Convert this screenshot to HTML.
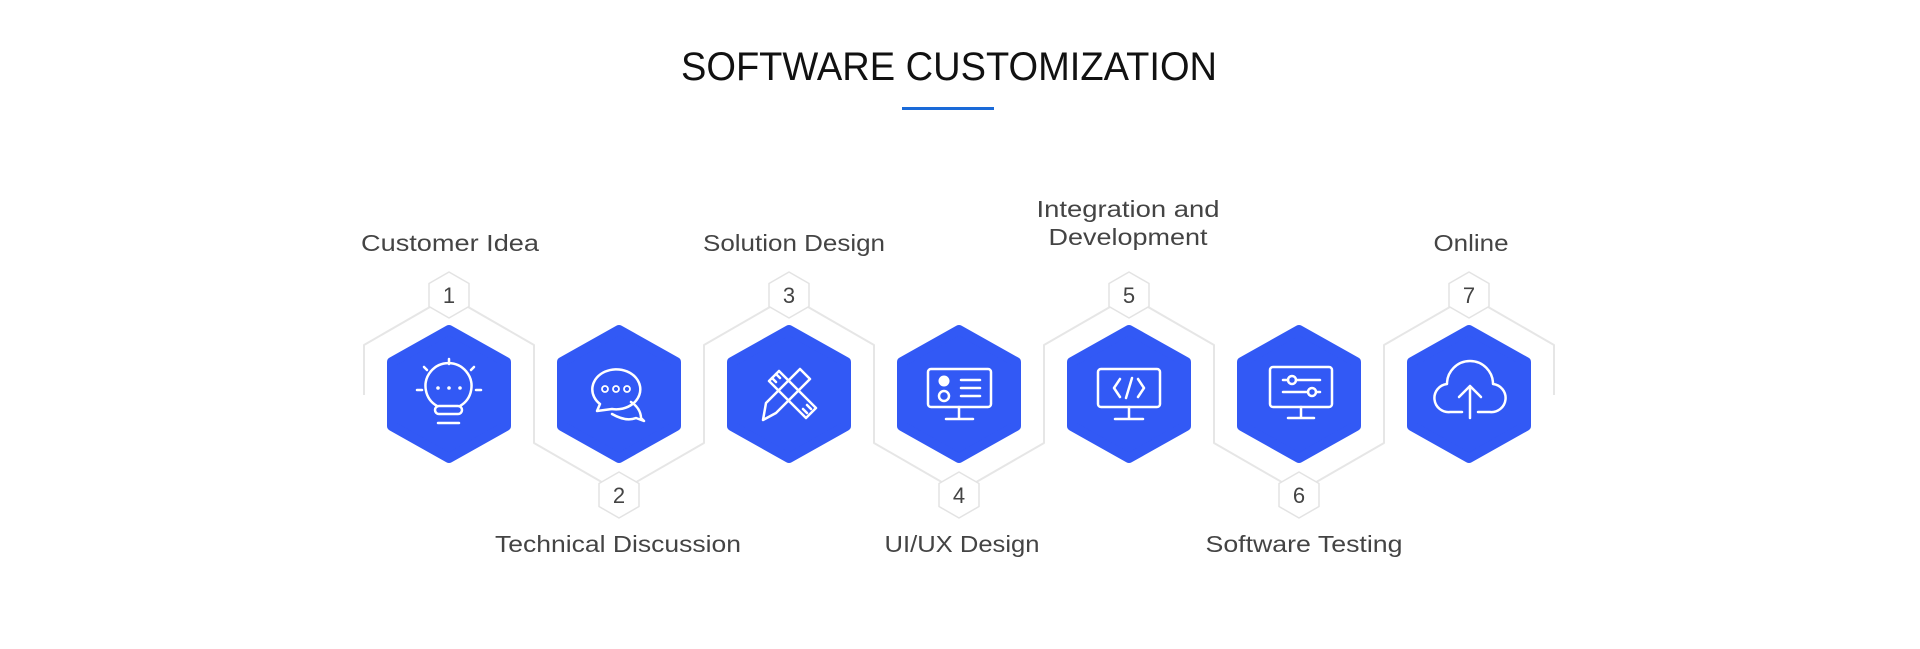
<!DOCTYPE html>
<html><head><meta charset="utf-8"><style>
html,body{margin:0;padding:0;background:#fff;}
svg{display:block;}
text{font-family:"Liberation Sans",sans-serif;}
</style></head><body>
<svg width="1920" height="649" viewBox="0 0 1920 649" xmlns="http://www.w3.org/2000/svg">
<defs>
<g id="top"><path d="M-85,1 L-85,-49 L0,-98 L85,-49 L85,1" fill="none" stroke="#e6e6e6" stroke-width="2" stroke-linejoin="round"/></g>
<g id="bot"><path d="M-85,-1 L-85,49 L0,98 L85,49 L85,-1" fill="none" stroke="#e6e6e6" stroke-width="2" stroke-linejoin="round"/></g>
<g id="blue"><path d="M0,-64 L57,-32 L57,32 L0,64 L-57,32 L-57,-32 Z" fill="#3259f5" stroke="#3259f5" stroke-width="10" stroke-linejoin="round"/></g>
<g id="badge"><path d="M0,-23 L20,-11.5 L20,11.5 L0,23 L-20,11.5 L-20,-11.5 Z" fill="#fff" stroke="#e3e3e3" stroke-width="1.5" stroke-linejoin="round"/></g>
</defs>
<text x="949" y="80" font-size="40" text-anchor="middle" fill="#111" textLength="536" lengthAdjust="spacingAndGlyphs">SOFTWARE CUSTOMIZATION</text>
<rect x="902" y="107" width="92" height="3" fill="#1a6ad8"/>

<g transform="translate(449,394)"><use href="#top"/></g>
<g transform="translate(619,394)"><use href="#bot"/></g>
<g transform="translate(789,394)"><use href="#top"/></g>
<g transform="translate(959,394)"><use href="#bot"/></g>
<g transform="translate(1129,394)"><use href="#top"/></g>
<g transform="translate(1299,394)"><use href="#bot"/></g>
<g transform="translate(1469,394)"><use href="#top"/></g>

<g transform="translate(449,394)"><use href="#blue"/></g>
<g transform="translate(619,394)"><use href="#blue"/></g>
<g transform="translate(789,394)"><use href="#blue"/></g>
<g transform="translate(959,394)"><use href="#blue"/></g>
<g transform="translate(1129,394)"><use href="#blue"/></g>
<g transform="translate(1299,394)"><use href="#blue"/></g>
<g transform="translate(1469,394)"><use href="#blue"/></g>

<g fill="#444" font-size="22" text-anchor="middle">
<g transform="translate(449,295)"><use href="#badge"/><text y="8">1</text></g>
<g transform="translate(619,495)"><use href="#badge"/><text y="8">2</text></g>
<g transform="translate(789,295)"><use href="#badge"/><text y="8">3</text></g>
<g transform="translate(959,495)"><use href="#badge"/><text y="8">4</text></g>
<g transform="translate(1129,295)"><use href="#badge"/><text y="8">5</text></g>
<g transform="translate(1299,495)"><use href="#badge"/><text y="8">6</text></g>
<g transform="translate(1469,295)"><use href="#badge"/><text y="8">7</text></g>
</g>

<g fill="#444" font-size="23" text-anchor="middle">
<text x="450" y="251" textLength="178" lengthAdjust="spacingAndGlyphs">Customer Idea</text>
<text x="618" y="552" textLength="246" lengthAdjust="spacingAndGlyphs">Technical Discussion</text>
<text x="794" y="251" textLength="182" lengthAdjust="spacingAndGlyphs">Solution Design</text>
<text x="962" y="552" textLength="155" lengthAdjust="spacingAndGlyphs">UI/UX Design</text>
<text x="1128" y="217" textLength="183" lengthAdjust="spacingAndGlyphs">Integration and</text>
<text x="1128" y="245" textLength="159" lengthAdjust="spacingAndGlyphs">Development</text>
<text x="1304" y="552" textLength="197" lengthAdjust="spacingAndGlyphs">Software Testing</text>
<text x="1471" y="251" textLength="75" lengthAdjust="spacingAndGlyphs">Online</text>
</g>

<g fill="none" stroke="#fff" stroke-width="2.5" stroke-linecap="round" stroke-linejoin="round">
<path d="M437,406 A23,23 0 1 1 460,406"/>
<rect x="435" y="406" width="27" height="8" rx="4"/>
<line x1="438" y1="423" x2="459" y2="423"/>
<line x1="449" y1="359" x2="449" y2="364"/>
<line x1="417" y1="390" x2="422" y2="390"/>
<line x1="476" y1="390" x2="481" y2="390"/>
<line x1="424" y1="367" x2="427" y2="370"/>
<line x1="474" y1="367" x2="471" y2="370"/>
<path d="M631,402 A26,21 0 0 1 641,418 L644,421 L636,418 Q626,422 612,414"/>
<path d="M600,404 A24,20 0 1 1 612,409 L597,411 Z"/>
<path d="M769,381 L779,371 L816,408 L806,418 Z"/>
<path d="M772,378 L776,382 M776,374 L780,378 M803,409 L807,413 M807,405 L811,409"/>
<path d="M763,420 L766,403 L800,369 L810,379 L776,413 Z"/>
<rect x="928" y="369" width="63" height="38" rx="3"/>
<path d="M959,407 L959,418 M946,419 L973,419"/>
<circle cx="944" cy="396" r="5"/>
<line x1="961" y1="380" x2="980" y2="380"/><line x1="961" y1="388" x2="980" y2="388"/><line x1="961" y1="396" x2="980" y2="396"/>
<rect x="1098" y="369" width="62" height="38" rx="3"/>
<path d="M1129,407 L1129,418 M1115,419 L1143,419"/>
<path d="M1120,379 L1114,388 L1120,397 M1138,379 L1144,388 L1138,397 M1132,378 L1126,398"/>
<rect x="1270" y="367" width="62" height="40" rx="3"/>
<path d="M1301,407 L1301,418 M1288,418 L1314,418"/>
<path d="M1283,380 L1288,380 M1296,380 L1320,380 M1283,392 L1308,392 M1316,392 L1320,392"/>
<circle cx="1292" cy="380" r="4"/><circle cx="1312" cy="392" r="4"/>
<path d="M1462,412 L1450,412 A14,14 0 0 1 1447,384 A20,20 0 0 1 1493,384 A14,14 0 0 1 1490,412 L1478,412"/>
<path d="M1470,418 L1470,386 M1459,397 L1470,386 L1481,397"/>
</g>
<g fill="#fff">
<circle cx="438" cy="388" r="1.8"/><circle cx="449" cy="388" r="1.8"/><circle cx="460" cy="388" r="1.8"/>
<circle cx="944" cy="381" r="5.5"/>
</g>
<g fill="none" stroke="#fff" stroke-width="1.8">
<circle cx="605" cy="389" r="3"/><circle cx="616" cy="389" r="3"/><circle cx="627" cy="389" r="3"/>
</g>
</svg>
</body></html>
